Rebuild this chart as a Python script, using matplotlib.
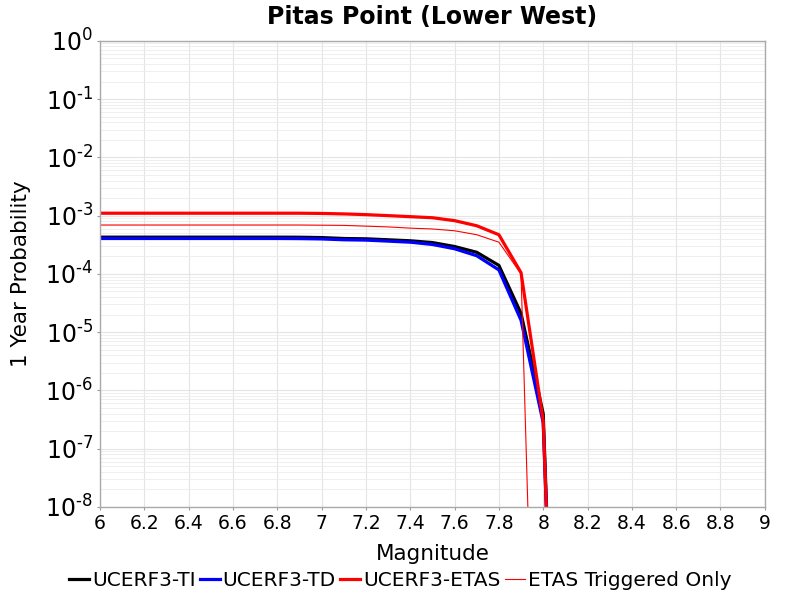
import matplotlib

matplotlib.use("Agg")
import matplotlib.pyplot as plt
import numpy as np
from matplotlib.ticker import FixedLocator, LogLocator, NullFormatter

# magnitude bins (0.1 steps)
mags = [6.0, 6.1, 6.2, 6.3, 6.4, 6.5, 6.6, 6.7, 6.8, 6.9,
        7.0, 7.1, 7.2, 7.3, 7.4, 7.5, 7.6, 7.7, 7.8, 7.9, 8.0, 8.1]

prob_ti = [4.27e-4, 4.27e-4, 4.27e-4, 4.27e-4, 4.27e-4, 4.27e-4, 4.27e-4, 4.27e-4, 4.27e-4, 4.26e-4,
           4.2e-4, 4.05e-4, 4.0e-4, 3.85e-4, 3.7e-4, 3.45e-4, 2.95e-4, 2.35e-4, 1.4e-4, 2.1e-5,
           4.0e-7, 1e-17]
prob_td = [4.05e-4, 4.05e-4, 4.05e-4, 4.05e-4, 4.05e-4, 4.05e-4, 4.05e-4, 4.05e-4, 4.05e-4, 4.03e-4,
           3.98e-4, 3.85e-4, 3.8e-4, 3.65e-4, 3.5e-4, 3.2e-4, 2.7e-4, 2.05e-4, 1.17e-4, 1.6e-5,
           2.8e-7, 1e-17]
prob_etas = [1.1e-3, 1.1e-3, 1.1e-3, 1.1e-3, 1.1e-3, 1.1e-3, 1.1e-3, 1.1e-3, 1.1e-3, 1.1e-3,
             1.09e-3, 1.07e-3, 1.04e-3, 1.0e-3, 9.6e-4, 9.2e-4, 8.2e-4, 6.7e-4, 4.7e-4, 1.05e-4,
             3.0e-7, 1e-17]
prob_trig = [6.9e-4, 6.9e-4, 6.9e-4, 6.9e-4, 6.9e-4, 6.9e-4, 6.9e-4, 6.9e-4, 6.9e-4, 6.9e-4,
             6.85e-4, 6.8e-4, 6.6e-4, 6.4e-4, 6.1e-4, 5.9e-4, 5.5e-4, 4.7e-4, 3.5e-4, 1.0e-4,
             1e-17, 1e-17]

x_ticks = [6, 6.2, 6.4, 6.6, 6.8, 7, 7.2, 7.4, 7.6, 7.8, 8, 8.2, 8.4, 8.6, 8.8, 9]
x_labels = ["6", "6.2", "6.4", "6.6", "6.8", "7", "7.2", "7.4", "7.6", "7.8",
            "8", "8.2", "8.4", "8.6", "8.8", "9"]
y_exps = [0, -1, -2, -3, -4, -5, -6, -7, -8]

fig = plt.figure(figsize=(8, 6), dpi=100)
ax = fig.add_axes([0.125, 0.155, 0.831, 0.777])

ax.plot(mags, prob_ti, color="black", lw=2.3, label="UCERF3-TI")
ax.plot(mags, prob_td, color="blue", lw=2.3, label="UCERF3-TD")
ax.plot(mags, prob_etas, color="red", lw=2.3, label="UCERF3-ETAS")
ax.plot(mags, prob_trig, color="red", lw=0.8, label="ETAS Triggered Only")

ax.set_yscale("log")
ax.set_xlim(6, 9)
ax.set_ylim(1e-8, 1)

ax.xaxis.set_major_locator(FixedLocator(x_ticks))
ax.set_xticklabels(x_labels, fontsize=13.5)
ax.set_yticks([10.0 ** e for e in y_exps])
# hyphen rather than a minus sign, as in the original
ylabels = []
for e in y_exps:
    sup = str(e).replace("-", r"\text{-}")
    ylabels.append(f"$10^{{{sup}}}$")
ax.set_yticklabels(ylabels, fontsize=17)
ax.yaxis.set_minor_locator(LogLocator(base=10, subs=np.arange(2, 10), numticks=20))
ax.yaxis.set_minor_formatter(NullFormatter())

ax.grid(True, which="major", color="#e4e4e4", lw=0.8)
ax.grid(True, which="minor", axis="y", color="#ececec", lw=0.6)
ax.set_axisbelow(True)
ax.tick_params(which="both", length=2, color="#999999", pad=3)
ax.tick_params(which="minor", length=0)
for s in ax.spines.values():
    s.set_color("#aaaaaa")
    s.set_linewidth(1)

ax.set_xlabel("Magnitude", fontsize=15.5, labelpad=8)
ax.set_ylabel("1 Year Probability", fontsize=15.5, labelpad=10)
ax.set_title("Pitas Point (Lower West)", fontsize=17, fontweight="bold", pad=12)

fig.legend(loc="lower center", bbox_to_anchor=(0.5, 0.0), ncol=4, frameon=False,
           fontsize=14.5, handlelength=1.0, handletextpad=0.15, columnspacing=0.2,
           borderaxespad=0.1)

fig.savefig("out.png", dpi=100)
plt.close(fig)
